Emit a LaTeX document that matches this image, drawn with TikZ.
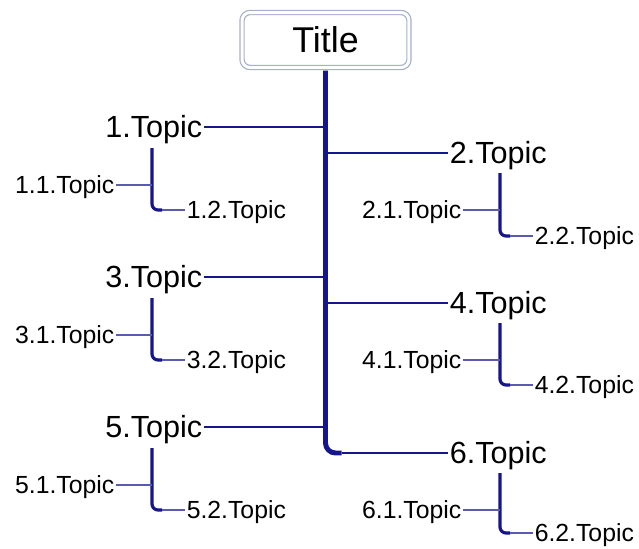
\documentclass[tikz,border=0pt]{standalone}
\usepackage{fontspec}
\setmainfont{Liberation Sans}
\usetikzlibrary{calc}
\definecolor{mapnavy}{RGB}{22,22,140}
\definecolor{mapthin}{RGB}{90,90,175}
\definecolor{mapframe}{RGB}{165,176,204}

\begin{document}
\begin{tikzpicture}[x=0.02cm,y=-0.02cm,
	titlebox/.style={draw=mapframe,double=white,double distance=1.7pt,line width=0.7pt,rounded corners=0.16cm,minimum width=3.34cm,minimum height=1.1cm,inner sep=0pt,font=\fontsize{20.4pt}{24pt}\selectfont},
	maintopic/.style={inner sep=0pt,outer sep=1pt,text height=12.5pt,text depth=0pt,font=\fontsize{17.4pt}{20pt}\selectfont},
	subtopic/.style={inner sep=0pt,outer sep=1pt,text height=10.1pt,text depth=0pt,font=\fontsize{14.1pt}{17pt}\selectfont},
	trunk/.style={draw=mapnavy,line width=2.8pt},
	branch/.style={draw=mapnavy,line width=1.4pt},
	bracket/.style={draw=mapnavy,line width=1.8pt,rounded corners=0.12cm},
	twig/.style={draw=mapthin,line width=0.9pt}]
\useasboundingbox (0,0) rectangle (639,548);

\node[titlebox] (title) at (325.5,40) {Title}; % Title
\node[maintopic,anchor=east] (t1) at (204,127) {1.Topic}; % Topic.1
\node[maintopic,anchor=west] (t2) at (448,153) {2.Topic}; % Topic.2
\node[maintopic,anchor=east] (t3) at (204,277) {3.Topic}; % Topic.3
\node[maintopic,anchor=west] (t4) at (448,303) {4.Topic}; % Topic.4
\node[maintopic,anchor=east] (t5) at (204,427) {5.Topic}; % Topic.5
\node[maintopic,anchor=west] (t6) at (448,453) {6.Topic}; % Topic.6

\node[subtopic,anchor=east] (s11) at (116,185) {1.1.Topic}; % Topic.1.1
\node[subtopic,anchor=west] (s12) at (185,210) {1.2.Topic}; % Topic.1.2
\node[subtopic,anchor=east] (s21) at (463,210) {2.1.Topic}; % Topic.2.1
\node[subtopic,anchor=west] (s22) at (533,236) {2.2.Topic}; % Topic.2.2
\node[subtopic,anchor=east] (s31) at (116,335) {3.1.Topic}; % Topic.3.1
\node[subtopic,anchor=west] (s32) at (185,360) {3.2.Topic}; % Topic.3.2
\node[subtopic,anchor=east] (s41) at (463,360) {4.1.Topic}; % Topic.4.1
\node[subtopic,anchor=west] (s42) at (533,385) {4.2.Topic}; % Topic.4.2
\node[subtopic,anchor=east] (s51) at (116,485) {5.1.Topic}; % Topic.5.1
\node[subtopic,anchor=west] (s52) at (185,510) {5.2.Topic}; % Topic.5.2
\node[subtopic,anchor=east] (s61) at (463,510) {6.1.Topic}; % Topic.6.1
\node[subtopic,anchor=west] (s62) at (533,533) {6.2.Topic}; % Topic.6.2

% trunk and main branches
\draw[trunk,rounded corners=0.2cm,shorten <=1.4pt] (title.south) -- (title.south |- t6.west) -- ($(title.south |- t6.west)+(16,0)$);
\draw[branch] ($(title.south |- t6.west)+(16,0)$) -- (t6.west);
\draw[branch] (t1.east) -- (t1.east -| title.south);
\draw[branch] (title.south |- t2.west) -- (t2.west);
\draw[branch] (t3.east) -- (t3.east -| title.south);
\draw[branch] (title.south |- t4.west) -- (t4.west);
\draw[branch] (t5.east) -- (t5.east -| title.south);

% sub brackets
\coordinate (b1) at (152,148);
\coordinate (b2) at (500,173);
\coordinate (b3) at (152,298);
\coordinate (b4) at (500,323);
\coordinate (b5) at (152,448);
\coordinate (b6) at (500,473);

\draw[bracket] (b1) -- (b1 |- s12.west) -- ($(b1 |- s12.west)+(10,0)$);
\draw[twig] ($(b1 |- s12.west)+(10,0)$) -- (s12.west);
\draw[twig] (s11.east) -- (s11.east -| b1);

\draw[bracket] (b2) -- (b2 |- s22.west) -- ($(b2 |- s22.west)+(10,0)$);
\draw[twig] ($(b2 |- s22.west)+(10,0)$) -- (s22.west);
\draw[twig] (s21.east) -- (s21.east -| b2);

\draw[bracket] (b3) -- (b3 |- s32.west) -- ($(b3 |- s32.west)+(10,0)$);
\draw[twig] ($(b3 |- s32.west)+(10,0)$) -- (s32.west);
\draw[twig] (s31.east) -- (s31.east -| b3);

\draw[bracket] (b4) -- (b4 |- s42.west) -- ($(b4 |- s42.west)+(10,0)$);
\draw[twig] ($(b4 |- s42.west)+(10,0)$) -- (s42.west);
\draw[twig] (s41.east) -- (s41.east -| b4);

\draw[bracket] (b5) -- (b5 |- s52.west) -- ($(b5 |- s52.west)+(10,0)$);
\draw[twig] ($(b5 |- s52.west)+(10,0)$) -- (s52.west);
\draw[twig] (s51.east) -- (s51.east -| b5);

\draw[bracket] (b6) -- (b6 |- s62.west) -- ($(b6 |- s62.west)+(10,0)$);
\draw[twig] ($(b6 |- s62.west)+(10,0)$) -- (s62.west);
\draw[twig] (s61.east) -- (s61.east -| b6);

\end{tikzpicture}
\end{document}
